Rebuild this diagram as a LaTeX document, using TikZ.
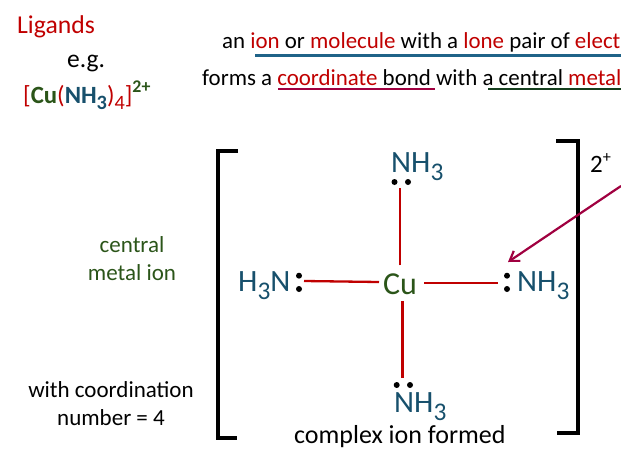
\documentclass[tikz,border=0pt]{standalone}
\usepackage{fontspec}
\setmainfont{Carlito}
\usetikzlibrary{arrows.meta}
\definecolor{ligandred}{HTML}{C00000}
\definecolor{ammoniablue}{HTML}{17506C}
\definecolor{metalgreen}{HTML}{2B5519}
\definecolor{arrowcrimson}{HTML}{A00040}
\definecolor{lineblue}{HTML}{1F6388}
\definecolor{linegreen}{HTML}{153F1E}
\newcommand{\lowsub}[1]{\raisebox{-0.27em}{\scalebox{0.82}{#1}}}
\newcommand{\rd}[1]{\textcolor{ligandred}{#1}}
\tikzset{
    txt/.style={anchor=base west, inner sep=0pt, font=\fontsize{22.9}{27}\selectfont},
    ctxt/.style={align=center, inner sep=0pt, font=\fontsize{23}{28}\selectfont},
    ligand/.style={anchor=base west, inner sep=0pt, text=ammoniablue, font=\fontsize{31}{32}\selectfont},
    lonedot/.style={circle, fill=black, inner sep=0pt, minimum size=6pt},
    bond/.style={ligandred, line width=2.3pt},
    bracket/.style={black, line width=3.8pt},
}
\begin{document}
\begin{tikzpicture}[x=1pt, y=-1pt]
    \useasboundingbox (0,0) rectangle (621,466);

    % top left
    \node[txt, text=ligandred, font=\fontsize{25.7}{27}\selectfont] (ligands) at (17,33) {Ligands};
    \node[txt, font=\fontsize{25.5}{27}\selectfont] (eg) at (67,67) {e.g.};
    \node[txt, font=\fontsize{24.8}{27}\selectfont] (formula) at (23,103) {\rd{[}\textcolor{metalgreen}{\textbf{Cu}}\rd{(}\textcolor{ammoniablue}{\textbf{NH\lowsub{3}}}\rd{)\lowsub{4}]}\raisebox{0.42em}{\scalebox{0.72}{\textcolor{metalgreen}{\textbf{2+}}}}};

    % definition lines
    \node[txt] (lineone) at (222,48) {an \rd{ion} or \rd{molecule} with a \rd{lone} pair of \rd{elect}};
    \node[txt] (linetwo) at (202,85) {forms a \rd{coordinate} bond with a central \rd{metal}};
    \draw[lineblue, line width=2.2pt] (255,55.5) -- (621,55.5);
    \draw[arrowcrimson, line width=2.2pt] (278,88.7) -- (435,88.7);
    \draw[linegreen, line width=2.2pt] (488,88.7) -- (621,88.7);

    % side labels
    \node[ctxt, text=metalgreen] (metal) at (132,259) {central\\metal ion};
    \node[ctxt] (coord) at (111,404) {with coordination\\number = 4};
    \node[txt, font=\fontsize{26}{27}\selectfont] (complex) at (294,443) {complex ion formed};
    \node[txt, font=\fontsize{25}{27}\selectfont] (charge) at (590,172) {2\raisebox{0.4em}{\scalebox{0.65}{+}}};

    % brackets
    \draw[bracket] (238,151) -- (218,151) -- (218,438) -- (237,438);
    \draw[bracket] (556,141) -- (578,141) -- (578,433) -- (557,433);

    % complex
    \node[inner sep=0pt, minimum width=48pt, minimum height=37pt, text=metalgreen, font=\fontsize{32}{33}\selectfont] (cu) at (400,284) {Cu};
    \node[ligand] (nhtop) at (391,172) {NH\lowsub{3}};
    \node[ligand] (nhleft) at (238,291) {H\lowsub{3}N};
    \node[ligand] (nhright) at (517,291) {NH\lowsub{3}};
    \node[ligand] (nhbottom) at (394,412) {NH\lowsub{3}};

    \node[lonedot] (ta) at (394.5,182) {};
    \node[lonedot] (tb) at (408,182) {};
    \node[lonedot] (la) at (299,275.7) {};
    \node[lonedot] (lb) at (299,289) {};
    \node[lonedot] (ra) at (507,275.7) {};
    \node[lonedot] (rb) at (507,289) {};
    \node[lonedot] (ba) at (396.7,385) {};
    \node[lonedot] (bb) at (410,385) {};

    \coordinate (bondtop) at (400,188);
    \coordinate (bondleft) at (304,281);
    \coordinate (bondright) at (498,283);
    \coordinate (cubottom) at (402.5,301);
    \coordinate (bondbottom) at (402.5,378);
    \coordinate (culeft) at (379,282);
    \coordinate (curight) at (424,283);

    \draw[bond] (cu.north) -- (bondtop);
    \draw[bond] (culeft) -- (bondleft);
    \draw[bond] (curight) -- (bondright);
    \draw[bond] (cubottom) -- (bondbottom);

    % arrow from the right edge
    \coordinate (arrowstart) at (621,186);
    \coordinate (arrowtip) at (508,262);
    \draw[arrowcrimson, line width=2.2pt, -{Straight Barb[length=9pt, width=12pt]}] (arrowstart) -- (arrowtip);
\end{tikzpicture}
\end{document}
